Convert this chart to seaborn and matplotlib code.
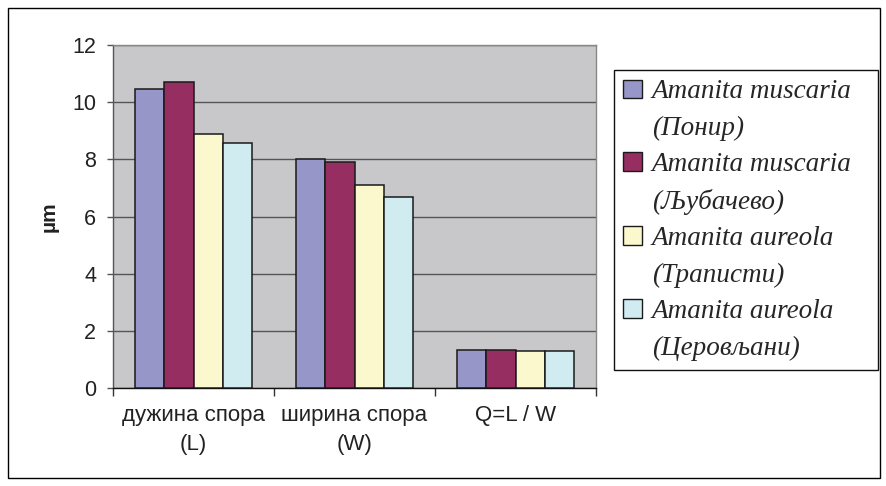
"""
Spore dimensions of Amanita samples - grouped bar chart.
"""
import matplotlib
matplotlib.use("Agg")
import matplotlib.pyplot as plt
from matplotlib.patches import Patch, Rectangle
import pandas as pd
import seaborn as sns

# Data
categories = ["дужина спора\n(L)", "ширина спора\n(W)", "Q=L / W"]
species = ["Amanita muscaria", "Amanita muscaria", "Amanita aureola", "Amanita aureola"]
sites = ["(Понир)", "(Љубачево)", "(Траписти)", "(Церовљани)"]
ponir = [10.45, 8.02, 1.33]
ljubacevo = [10.7, 7.9, 1.33]
trapisti = [8.87, 7.1, 1.28]
cerovljani = [8.56, 6.67, 1.28]
colors = ["#9696C8", "#962E62", "#FBF8CE", "#D0ECF1"]

series = [f"{sp} {si}" for sp, si in zip(species, sites)]
df = pd.DataFrame({
    "category": categories * 4,
    "series": [s for s in series for _ in categories],
    "value": ponir + ljubacevo + trapisti + cerovljani,
})

sns.set_style("white")
plt.rcParams["font.family"] = ["Liberation Sans", "DejaVu Sans"]

fig = plt.figure(figsize=(8.87, 4.86), dpi=100)
ax = fig.add_axes([113 / 887, 1 - 388 / 486, 483 / 887, 343 / 486])
ax.set_facecolor("#C8C8CA")

sns.barplot(
    data=df, x="category", y="value", hue="series",
    palette=colors, width=4 / 5.5, edgecolor="#1a1a1a", linewidth=1.1,
    saturation=1, ax=ax, legend=False, zorder=3,
)

ax.set_xlim(-0.5, 2.5)
ax.set_ylim(0, 12)
ax.set_yticks(range(0, 13, 2))
ax.set_xticks(range(len(categories)), categories, linespacing=1.5)
ax.yaxis.grid(True, color="#555555", linewidth=1.0, zorder=1)
ax.set_axisbelow(True)
ax.tick_params(axis="y", labelsize=15.5, length=4, width=1, color="#555555", pad=8,
               left=True, labelcolor="#222222")
ax.tick_params(axis="x", which="major", length=0, labelsize=16, pad=12,
               labelcolor="#222222")
ax.set_xticks([-0.5, 0.5, 1.5, 2.5], minor=True)
ax.tick_params(axis="x", which="minor", length=6, width=1, color="#333333", bottom=True)
ax.set_xlabel("")
ax.set_ylabel("µm", fontsize=15, fontweight="bold", labelpad=10, color="#222222")

for side in ["top", "right"]:
    ax.spines[side].set_color("#888888")
ax.spines["left"].set_color("#555555")
ax.spines["bottom"].set_color("#111111")
for s in ax.spines.values():
    s.set_linewidth(1.0)

# legend: one row per text line, the colour square sits on the species line
handles, labels = [], []
for c, sp, si in zip(colors, species, sites):
    handles.append(Patch(facecolor=c, edgecolor="#1a1a1a", linewidth=1.0))
    labels.append(sp)
    handles.append(Patch(facecolor="none", edgecolor="none"))
    labels.append(si)
leg = fig.legend(
    handles, labels, loc="upper left", mode="expand",
    bbox_to_anchor=(614 / 887, 1 - 372 / 486, 264 / 887, 302 / 486),
    bbox_transform=fig.transFigure,
    frameon=True, fancybox=False, edgecolor="#111111", framealpha=1,
    prop={"family": "Liberation Serif", "style": "italic", "size": 19.5},
    handlelength=0.7, handleheight=0.7, handletextpad=0.35,
    labelspacing=0.42, borderpad=0.35, borderaxespad=0,
)
leg.get_frame().set_linewidth(1.0)

# outer chart border
fig.patches.append(Rectangle((8 / 887, 8 / 486), 872 / 887, 470 / 486,
                             transform=fig.transFigure, fill=False,
                             edgecolor="black", linewidth=1.0))

fig.savefig("out.png", dpi=100)
